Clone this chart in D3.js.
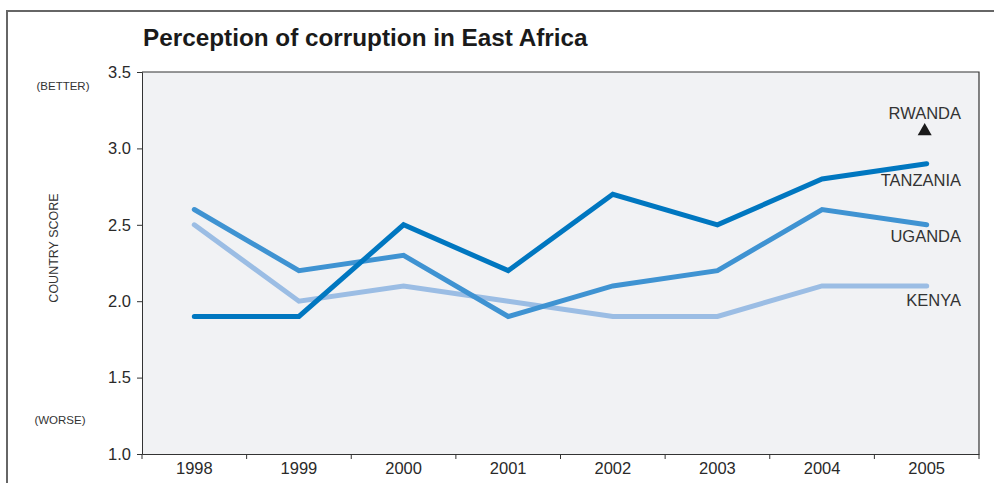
<!DOCTYPE html>
<html><head><meta charset="utf-8">
<script src="https://cdn.jsdelivr.net/npm/d3@7"></script>
<style>body{margin:0;background:#fff;}svg{display:block;font-family:"Liberation Sans",Arial,sans-serif;}</style>
</head><body><svg id="c" width="994" height="483"></svg>
<script>
const years = ["1998","1999","2000","2001","2002","2003","2004","2005"];
const tanzania = [1.9,1.9,2.5,2.2,2.7,2.5,2.8,2.9];
const uganda = [2.6,2.2,2.3,1.9,2.1,2.2,2.6,2.5];
const kenya = [2.5,2.0,2.1,2.0,1.9,1.9,2.1,2.1];
const rwanda = [{year:"2005", value:3.1}];
const yTicks = [1.0,1.5,2.0,2.5,3.0,3.5];
const seriesNames = ["KENYA","UGANDA","TANZANIA"];
const seriesColors = ["#9bbde4","#3f93d2","#0077c0"];

const svg = d3.select("#c");
const L=142, R=979, T=72, B=454;
const x = d3.scaleBand().domain(years).range([L,R]);
const y = d3.scaleLinear().domain([1,3.5]).range([B,T]);

// outer frame
svg.append("path").attr("d",`M7,483 V11 H994`).attr("fill","none").attr("stroke","#666").attr("stroke-width",2);

// plot background
svg.append("rect").attr("x",L).attr("y",T).attr("width",R-L).attr("height",B-T).attr("fill","#f1f2f4");
svg.append("path").attr("d",`M${L},${T} H${R} V${B}`).attr("fill","none").attr("stroke","#333").attr("stroke-width",1.2);

// title
svg.append("text").attr("x",143).attr("y",46).attr("font-size",24.3).attr("font-weight","bold").attr("fill","#1a1a1a").text("Perception of corruption in East Africa");

// y axis
const ya = svg.append("g").attr("transform",`translate(${L},0)`).call(d3.axisLeft(y).tickValues(yTicks).tickFormat(d3.format(".1f")).tickSize(5).tickPadding(6));
ya.select(".domain").attr("stroke","#333");
ya.selectAll(".tick line").attr("stroke","#333");
ya.selectAll("text").attr("font-size",16.5).attr("fill","#2a2a2a").attr("font-family","Liberation Sans, Arial, sans-serif");

// x axis: ticks at band boundaries
const xa = svg.append("g").attr("transform",`translate(0,${B})`).call(d3.axisBottom(x).tickSize(0).tickPadding(8));
xa.select(".domain").attr("stroke","#333");
xa.selectAll("text").attr("font-size",16.5).attr("fill","#2a2a2a").attr("font-family","Liberation Sans, Arial, sans-serif").attr("dy","0.72em");
const bounds = years.map(d=>x(d)).concat([R]);
svg.append("g").selectAll("line").data(bounds).join("line")
  .attr("x1",d=>d).attr("x2",d=>d).attr("y1",B).attr("y2",B+5).attr("stroke","#333");

// side labels
svg.append("text").attr("x",63).attr("y",90).attr("text-anchor","middle").attr("font-size",11.5).attr("fill","#333").text("(BETTER)");
svg.append("text").attr("x",60).attr("y",424).attr("text-anchor","middle").attr("font-size",11.5).attr("fill","#333").text("(WORSE)");
svg.append("text").attr("transform","translate(58,248) rotate(-90)").attr("text-anchor","middle").attr("font-size",12.5).attr("fill","#333").text("COUNTRY SCORE");

// lines
const line = d3.line().x((d,i)=>x(years[i])+x.bandwidth()/2).y(d=>y(d));
const data = [kenya, uganda, tanzania];
svg.append("g").selectAll("path").data(data).join("path")
  .attr("d",line).attr("fill","none").attr("stroke",(d,i)=>seriesColors[i]).attr("stroke-width",5).attr("stroke-linecap","round").attr("stroke-linejoin","miter");

// rwanda triangle
svg.append("g").selectAll("path").data(rwanda).join("path")
  .attr("d",d3.symbol(d3.symbolTriangle,85)())
  .attr("transform",d=>`translate(${x(d.year)+x.bandwidth()/2-2},${y(d.value)-2})`).attr("fill","#1a1a1a");

// labels (right-aligned)
const lab = [
  {t:"RWANDA", v:3.1, dy:-14},
  {t:"TANZANIA", v:tanzania[7], dy:22},
  {t:"UGANDA", v:uganda[7], dy:17},
  {t:"KENYA", v:kenya[7], dy:20}
];
svg.append("g").selectAll("text").data(lab).join("text")
  .attr("x",961).attr("y",d=>y(d.v)+d.dy).attr("text-anchor","end").attr("font-size",16.5).attr("fill","#333").text(d=>d.t);
</script></body></html>
